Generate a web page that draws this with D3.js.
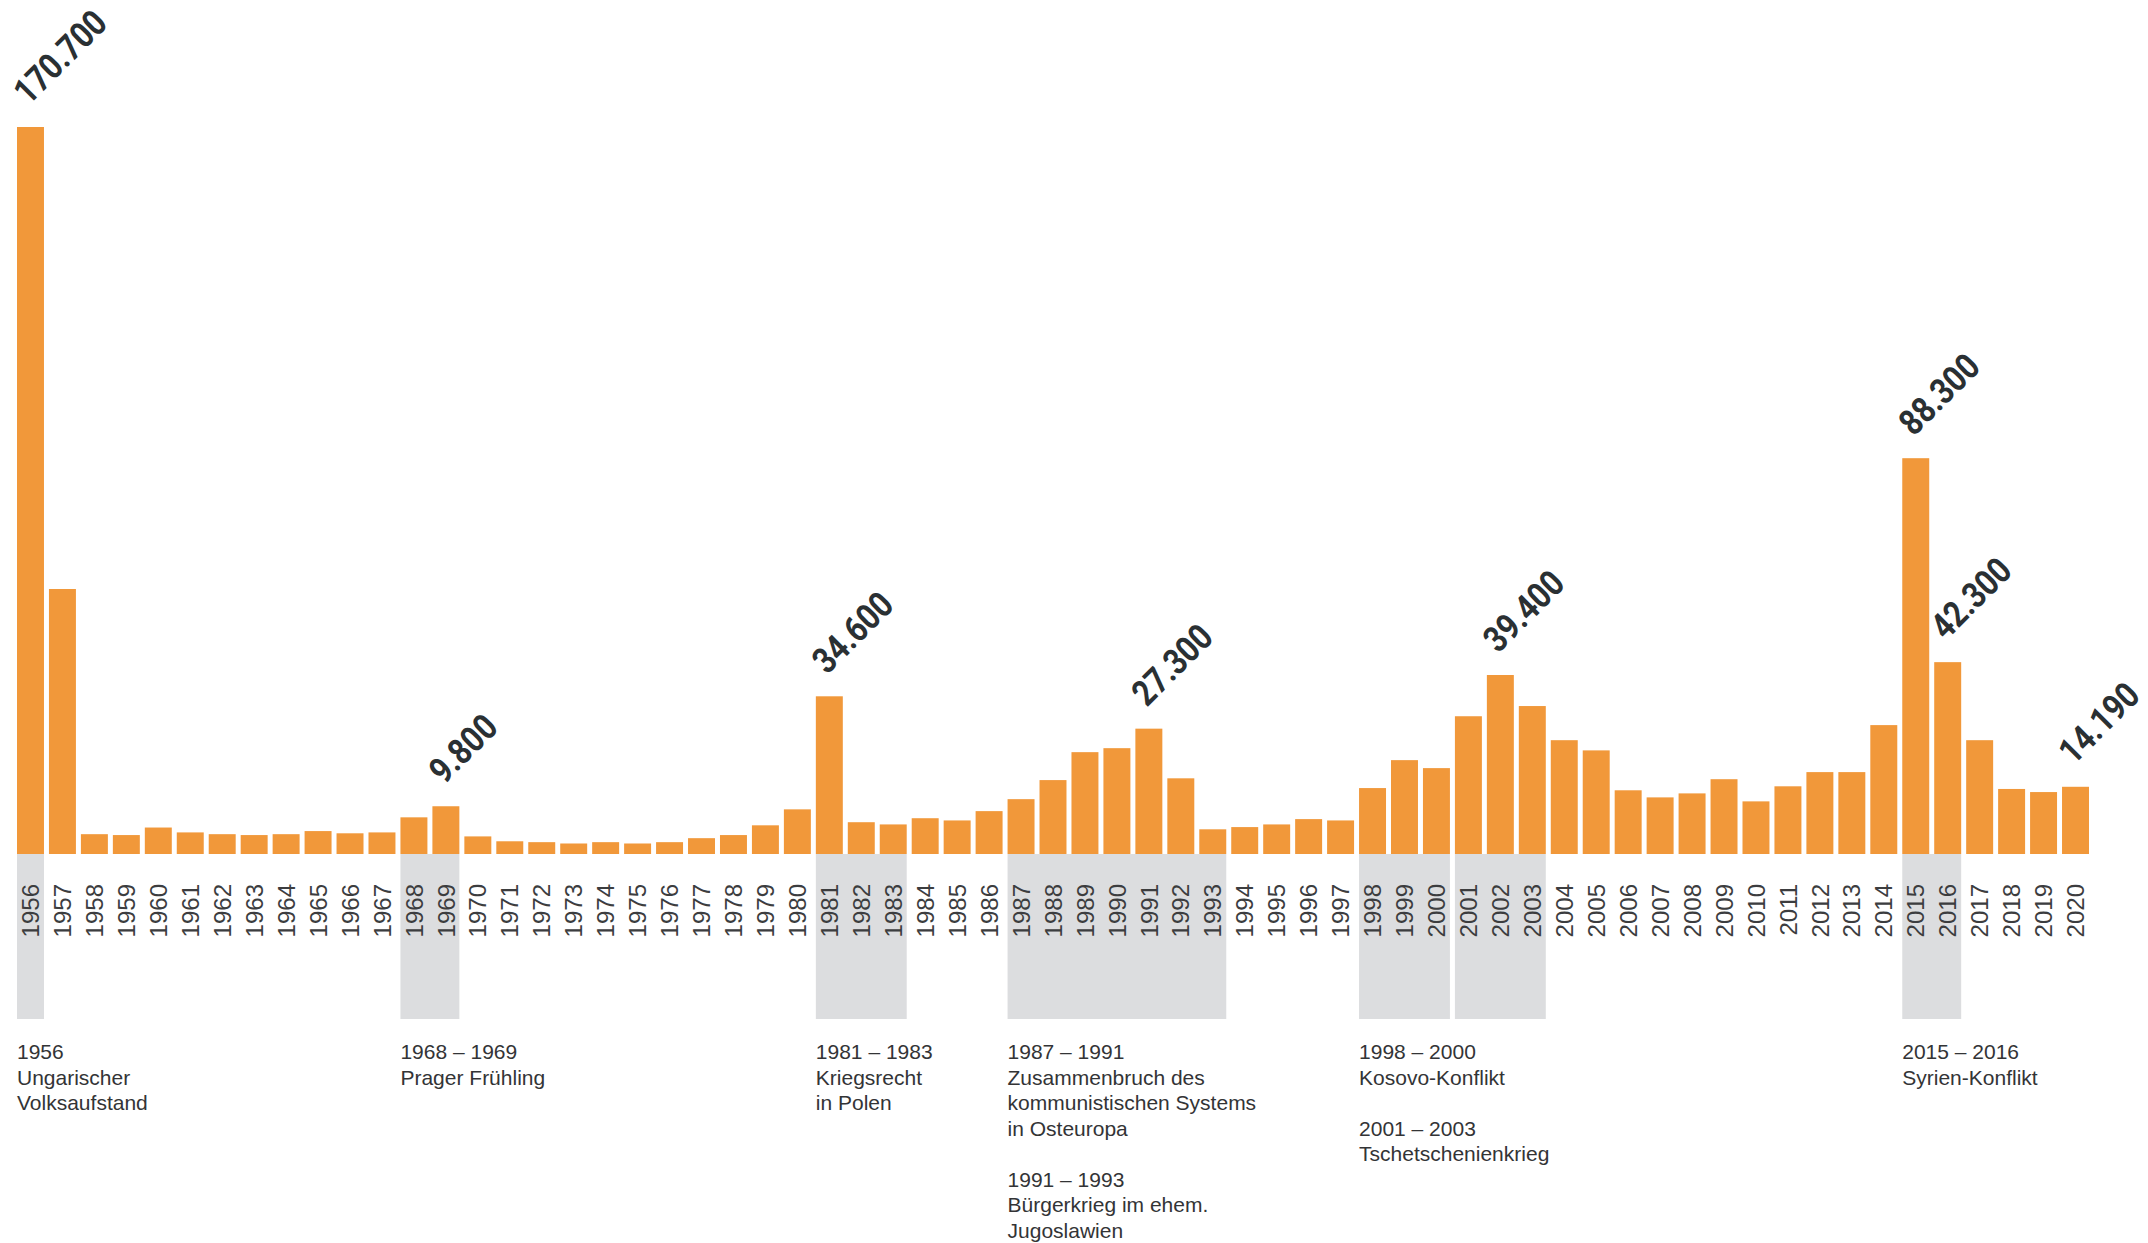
<!DOCTYPE html>
<html>
<head>
<meta charset="utf-8">
<script src="https://cdn.jsdelivr.net/npm/d3@7"></script>
<style>
  body { margin: 0; background: #fff; }
  svg { display: block; }
</style>
</head>
<body>
<script>
// Asylanträge / Flüchtlinge pro Jahr, 1956 - 2020
var years = [1956, 1957, 1958, 1959, 1960, 1961, 1962, 1963, 1964, 1965, 1966, 1967,
  1968, 1969, 1970, 1971, 1972, 1973, 1974, 1975, 1976, 1977, 1978, 1979, 1980,
  1981, 1982, 1983, 1984, 1985, 1986, 1987, 1988, 1989, 1990, 1991, 1992, 1993,
  1994, 1995, 1996, 1997, 1998, 1999, 2000, 2001, 2002, 2003, 2004, 2005, 2006,
  2007, 2008, 2009, 2010, 2011, 2012, 2013, 2014, 2015, 2016, 2017, 2018, 2019, 2020];

var values = [170700, 58800, 3500, 3300, 5000, 3900, 3500, 3300, 3500, 4200, 3700, 3900,
  7300, 9800, 3000, 1900, 1700, 1400, 1700, 1400, 1700, 2600, 3300, 5500, 9100,
  34600, 6200, 5700, 7100, 6600, 8700, 11400, 15700, 22000, 22900, 27300, 16100, 4600,
  5100, 5700, 6900, 6600, 13900, 20200, 18400, 30100, 39400, 32400, 24700, 22400, 13400,
  11800, 12700, 15900, 10900, 14300, 17500, 17500, 28100, 88300, 42300, 24700, 13700, 13000, 14190];

// which bars get a number on top
var labelYears = [1956, 1969, 1981, 1991, 2002, 2015, 2016, 2020];

// grey boxes under the axis
var bandFrom = [1956, 1968, 1981, 1987, 1998, 2001, 2015];
var bandTo   = [1956, 1969, 1983, 1993, 2000, 2003, 2016];

// notes below the boxes
var noteYears = [1956, 1968, 1981, 1987, 1998, 2015];
var noteLines = [
  ["1956", "Ungarischer", "Volksaufstand"],
  ["1968 – 1969", "Prager Frühling"],
  ["1981 – 1983", "Kriegsrecht", "in Polen"],
  ["1987 – 1991", "Zusammenbruch des", "kommunistischen Systems", "in Osteuropa", "",
   "1991 – 1993", "Bürgerkrieg im ehem.", "Jugoslawien"],
  ["1998 – 2000", "Kosovo-Konflikt", "", "2001 – 2003", "Tschetschenienkrieg"],
  ["2015 – 2016", "Syrien-Konflikt"]
];

var width = 2148,
    height = 1243,
    baseline = 854,
    bandBottom = 1019;

var de = d3.formatLocale({decimal: ",", thousands: ".", grouping: [3], currency: ["", " €"]});
var fmt = de.format(",");

var svg = d3.select("body").append("svg")
    .attr("width", width)
    .attr("height", height);

var x = d3.scaleBand()
    .domain(years)
    .range([17, 2089])
    .paddingInner(0.156)
    .paddingOuter(0);

// bars in the original start a few px below zero, and 1956 is cut off at the top
var y = d3.scaleLinear()
    .domain([-970, 163000])
    .range([baseline, 127])
    .clamp(true);

// grey boxes
svg.append("g")
  .selectAll("rect")
  .data(bandFrom)
  .enter().append("rect")
    .attr("x", function(d) { return x(d); })
    .attr("y", baseline)
    .attr("width", function(d, i) { return x(bandTo[i]) + x.bandwidth() - x(d); })
    .attr("height", bandBottom - baseline)
    .style("fill", "#dcdddf");

// bars
svg.append("g")
  .selectAll("rect")
  .data(values)
  .enter().append("rect")
    .attr("x", function(d, i) { return x(years[i]); })
    .attr("y", function(d) { return y(d); })
    .attr("width", x.bandwidth())
    .attr("height", function(d) { return baseline - y(d); })
    .style("fill", "#f1983a");

// year labels, rotated
svg.append("g")
  .selectAll("text")
  .data(years)
  .enter().append("text")
    .attr("transform", function(d) {
      return "translate(" + (x(d) + x.bandwidth() / 2) + "," + 884 + ") rotate(-90)";
    })
    .attr("dy", "0.36em")
    .attr("text-anchor", "end")
    .style("font-family", "'Liberation Sans', Arial, Helvetica, sans-serif")
    .style("font-size", "24px")
    .style("fill", "#3c3d3f")
    .text(function(d) { return d; });

// numbers on top of the big bars
svg.append("g")
  .selectAll("text")
  .data(labelYears)
  .enter().append("text")
    .attr("transform", function(d) {
      var v = values[years.indexOf(d)];
      var cx = x(d) + x.bandwidth() / 2 - 2,
          cy = y(v) - 21;
      return "translate(" + cx + "," + cy + ") rotate(-45) scale(0.85,1)";
    })
    .style("font-family", "Roboto, 'Liberation Sans', Arial, sans-serif")
    .style("font-weight", "bold")
    .style("font-size", "36px")
    .style("fill", "#2a3033")
    .text(function(d) { return fmt(values[years.indexOf(d)]); });

// notes
var note = svg.append("g")
  .selectAll("text")
  .data(noteYears)
  .enter().append("text")
    .attr("x", function(d) { return x(d); })
    .attr("y", 1059)
    .style("font-family", "'Liberation Sans', Arial, Helvetica, sans-serif")
    .style("font-size", "21px")
    .style("fill", "#333436");

note.each(function(d, i) {
  var t = d3.select(this);
  noteLines[i].forEach(function(line, j) {
    t.append("tspan")
      .attr("x", x(d))
      .attr("y", 1059 + j * 25.5)
      .text(line);
  });
});
</script>
</body>
</html>
